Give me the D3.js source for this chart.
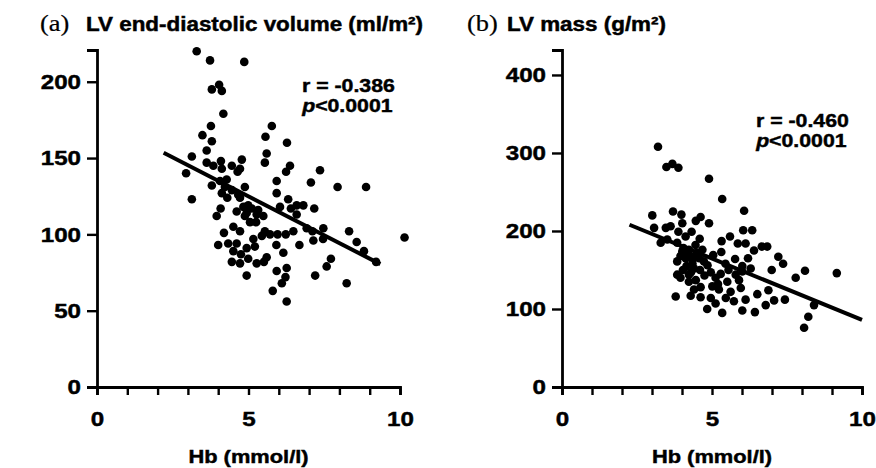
<!DOCTYPE html>
<html>
<head>
<meta charset="utf-8">
<script src="https://cdn.jsdelivr.net/npm/d3@7"></script>
<style>
body{margin:0;background:#fff}
svg text{font-family:"Liberation Sans",Arial,sans-serif;font-weight:bold;fill:#000;stroke:#000;stroke-width:0.45px;
  transform-box:fill-box;transform:scaleX(1.15);transform-origin:center}
svg text.start{transform-origin:left center}
svg text.end{transform-origin:right center}
svg text.serif{font-family:"Liberation Serif","Times New Roman",serif;font-weight:normal;stroke-width:0.2px}
</style>
</head>
<body>
<svg id="chart" width="876" height="468"></svg>
<script>
// panel (a): Hb vs LV end-diastolic volume
var hbA = [3.29,3.73,4.86,3.79,4.03,4.12,4.17,3.76,3.48,3.79,3.62,3.13,2.94,3.13,5.77,5.56,6.27,5.60,5.54,6.37,
  6.24,7.36,7.06,7.94,5.93,5.93,6.31,6.59,6.81,7.17,6.40,6.04,6.59,3.62,3.84,4.09,4.45,4.78,4.72,4.64,
  4.12,4.28,4.06,3.79,4.22,4.45,4.88,4.12,4.30,4.72,4.66,4.08,3.95,4.61,4.83,4.99,5.11,5.27,4.94,4.88,
  5.05,5.25,5.32,5.49,4.50,4.19,4.72,4.00,4.33,4.61,4.50,4.75,4.94,4.45,4.72,4.99,5.27,5.51,5.60,5.21,
  5.16,5.44,5.54,5.71,5.96,6.23,6.48,5.92,6.15,6.68,6.92,7.11,7.14,7.47,7.46,8.32,8.57,4.94,5.93,6.26,
  6.22,6.10,5.80,6.26,7.20,7.58,7.72,8.24,8.88,8.81,9.21,10.15]
var edvA = [220,214,213,195,198,194,179,171,165,161,155,151,140,123,171,164,160,153,147,145,
  141,142,134,131,135,127,123,119,119,117,117,118,113,147,145,148,145,149,143,141,
  143,136,135,132,131,129,131,127,124,124,126,117,112,115,118,119,117,113,114,112,
  108,108,116,112,105,101,102,93,94,94,89,87,91,82,81,84,81,82,85,92,
  97,99,102,100,100,100,102,93,88,93,104,102,96,104,97,102,95,73,76,78,
  72,68,63,56,73,79,84,68,131,89,82,98]

// panel (b): Hb vs LV mass
var hbB = [3.20,3.48,3.68,3.88,4.90,5.34,6.07,3.01,3.70,3.98,4.46,4.62,4.90,3.07,3.46,3.62,3.88,4.01,6.04,6.34,
  3.29,3.51,3.84,4.12,4.32,4.59,5.32,5.60,5.86,6.12,6.40,6.66,6.84,5.31,4.01,4.23,4.46,4.68,3.84,4.12,
  4.34,4.57,4.73,5.04,5.77,6.01,6.29,7.21,7.37,6.99,8.10,9.16,7.79,3.84,4.03,4.23,4.46,4.40,4.96,5.12,
  5.29,5.51,5.79,6.01,5.01,5.23,4.62,4.23,5.96,5.62,3.79,4.29,4.62,4.96,5.12,5.46,5.73,6.12,6.51,6.88,
  7.07,7.43,6.79,4.84,5.34,6.01,6.43,8.40,8.21,8.07,
  4.05,4.20,4.35,4.50,4.15,4.60,4.30,4.75,4.45,3.95,4.85,5.45,5.55,5.20,4.40,3.95,5.90,6.20]
var massB = [308,282,286,281,267,241,226,220,225,221,213,218,210,204,204,206,199,210,201,201,
  185,189,185,193,199,190,187,193,184,184,175,180,180,173,174,176,169,176,161,165,
  163,165,161,169,164,155,152,167,158,150,149,146,140,144,150,144,137,152,147,140,
  145,135,144,148,129,125,128,135,127,122,116,117,115,114,107,114,110,112,119,124,
  111,112,105,100,95,98,96,105,90,76,
  178,170,158,172,155,150,147,143,182,168,156,158,150,132,125,140,137,165]

var xTicks = d3.range(0, 11)
var xLabels = [0, 5, 10]
var yTicksA = [0, 50, 100, 150, 200]
var yTicksB = [0, 100, 200, 300, 400]

// regression lines, end points
var fitAx = [2.2, 9.35], fitAy = [153.5, 80.5]
var fitBx = [2.25, 10], fitBy = [208, 86]

var svg = d3.select("#chart")

function drawPanel(hb, vals, o){
  var x = d3.scaleLinear().domain([0,10]).range(o.xr)
  var y = d3.scaleLinear().domain([0,o.yMax]).range([387,50])
  var g = svg.append("g")

  var xa = g.append("g").attr("transform","translate(0,387)")
    .call(d3.axisBottom(x).tickValues(xTicks).tickSizeOuter(0).tickSize(8).tickPadding(16)
      .tickFormat(d => xLabels.indexOf(d) >= 0 ? d : ""))
  var ya = g.append("g").attr("transform","translate("+o.xr[0]+",0)")
    .call(d3.axisLeft(y).tickValues(o.yTicks).tickSizeOuter(0).tickSize(10).tickPadding(6))
  ;[xa,ya].forEach(a=>{
    a.select(".domain").attr("stroke","#000").attr("stroke-width",2.8)
    a.selectAll(".tick line").attr("stroke","#000").attr("stroke-width",2.4)
    a.selectAll("text").attr("font-size",21).attr("font-family",null)
  })
  ya.selectAll("text").attr("class","end")

  g.append("text").attr("x",(o.xr[0]+o.xr[1])/2).attr("y",463)
    .attr("text-anchor","middle").attr("font-size",19).text("Hb (mmol/l)")

  g.append("text").attr("class","serif start").attr("x",o.tx).attr("y",31)
    .attr("font-size",23).text(o.tag)
  g.append("text").attr("class","start").attr("x",o.tx+o.gap).attr("y",31)
    .attr("font-size",o.tsize).text(o.title)

  var pts = hb.map((d,i)=>({hb:d, v:vals[i]}))
  g.selectAll("circle").data(pts).enter().append("circle")
    .attr("cx",d=>x(d.hb)).attr("cy",d=>y(d.v)).attr("r",4.3).attr("fill","#000")

  g.append("line").attr("x1",x(o.fx[0])).attr("y1",y(o.fy[0]))
    .attr("x2",x(o.fx[1])).attr("y2",y(o.fy[1]))
    .attr("stroke","#000").attr("stroke-width",4)

  var t = g.append("text").attr("class","start").attr("x",o.ax).attr("y",o.ay).attr("font-size",18.5)
  t.text(o.r)
  var p = g.append("text").attr("class","start").attr("x",o.ax).attr("y",o.ay+20).attr("font-size",18.5)
  p.append("tspan").attr("font-style","italic").text("p")
  p.append("tspan").text("<0.0001")
}

drawPanel(hbA, edvA, {xr:[97,400], yMax:220.8, yTicks:yTicksA, tx:40, gap:46, tsize:19.5,
  tag:"(a)", title:"LV end-diastolic volume (ml/m²)", fx:fitAx, fy:fitAy,
  ax:302, ay:92, r:"r = -0.386"})
drawPanel(hbB, massB, {xr:[562,862], yMax:432, yTicks:yTicksB, tx:467, gap:40, tsize:19.5,
  tag:"(b)", title:"LV mass (g/m²)", fx:fitBx, fy:fitBy,
  ax:756, ay:127, r:"r = -0.460"})
</script>
</body>
</html>
